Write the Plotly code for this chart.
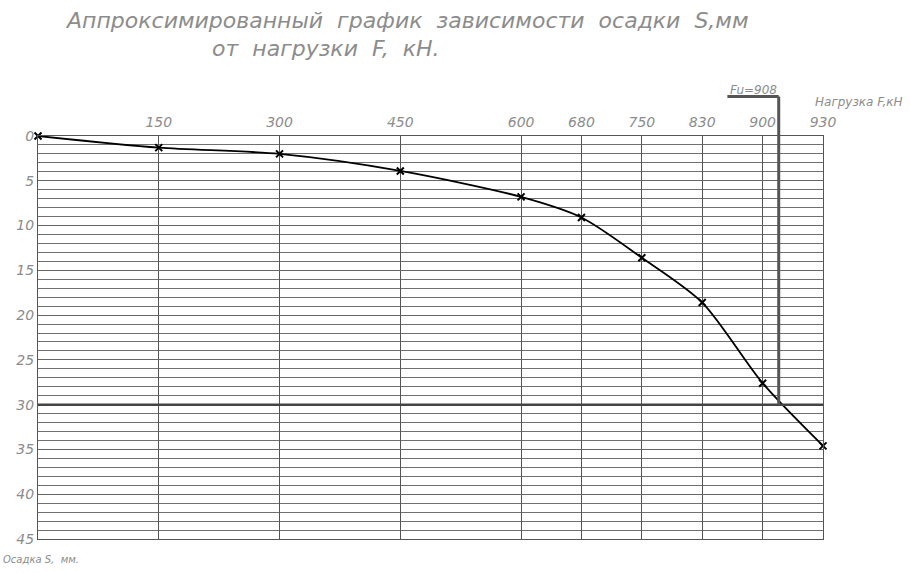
import numpy as np
import plotly.graph_objects as go

# Load stages F, kN and measured settlement S, mm
loads = [0, 150, 300, 450, 600, 680, 750, 830, 900, 930]
settlement = [0, 1.3, 2.0, 3.9, 6.8, 9.1, 13.6, 18.6, 27.6, 34.6]

# Ultimate load and the settlement criterion
fu_load = 908
s_limit = 30
s_max = 45

y_ticks = list(range(0, 50, 5))


def grid_pos(f):
    """Drawing scale: 150 kN steps take two grid columns up to 600 kN,
    every later stage takes one column."""
    cols = [0.0]
    for i in range(1, len(loads)):
        cols.append(cols[-1] + (2 if loads[i] <= 600 else 1))
    return float(np.interp(f, loads, cols))


xpos = [grid_pos(f) for f in loads]
fu_pos = grid_pos(fu_load)
x_end = xpos[-1]

grey = "#8c8c8c"
label_font = dict(family="DejaVu Sans", size=14, color=grey, style="italic")

fig = go.Figure()
fig.add_trace(go.Scatter(
    x=xpos, y=settlement, mode="lines+markers", cliponaxis=False,
    line=dict(color="black", width=1.8, shape="spline", smoothing=0.8),
    marker=dict(symbol="x-thin", size=7, line=dict(color="black", width=2)),
    hoverinfo="skip", showlegend=False,
))

# Heavy line at the settlement limit
fig.add_shape(type="line", xref="x", yref="y", x0=0, x1=x_end, y0=s_limit, y1=s_limit,
              line=dict(color="#444", width=2.5), layer="above")
# Ultimate-load marker line rising above the grid
top_paper = 1.098
fig.add_shape(type="line", xref="x", yref="paper",
              x0=fu_pos, x1=fu_pos, y0=(s_max - s_limit) / s_max, y1=top_paper,
              line=dict(color="#555", width=3), layer="above")
fig.add_shape(type="line", xref="x", yref="paper",
              x0=fu_pos - 0.85, x1=fu_pos, y0=top_paper, y1=top_paper,
              line=dict(color="#555", width=3), layer="above")

fig.add_annotation(x=fu_pos, y=top_paper, xref="x", yref="paper", text="Fu=908",
                   showarrow=False, xanchor="right", yanchor="bottom", yshift=-2,
                   font=dict(family="DejaVu Sans", size=12, color=grey, style="italic"))
fig.add_annotation(x=1.104, y=1.085, xref="paper", yref="paper", text="Нагрузка F,кН",
                   showarrow=False, xanchor="right", yanchor="middle",
                   font=dict(family="DejaVu Sans", size=12, color=grey, style="italic"))
fig.add_annotation(x=-0.047, y=-0.052, xref="paper", yref="paper", text="Осадка S,  мм.",
                   showarrow=False, xanchor="left", yanchor="middle",
                   font=dict(family="DejaVu Sans", size=10, color=grey, style="italic"))

title_font = dict(family="DejaVu Sans", size=22, color=grey, style="italic")
fig.add_annotation(x=0.032, y=1.286, xref="paper", yref="paper",
                   text="Аппроксимированный  график  зависимости  осадки  S,мм",
                   showarrow=False, xanchor="left", yanchor="middle", font=title_font)
fig.add_annotation(x=0.219, y=1.217, xref="paper", yref="paper",
                   text="от  нагрузки  F,  кН.",
                   showarrow=False, xanchor="left", yanchor="middle", font=title_font)

fig.update_layout(
    width=910, height=573,
    margin=dict(l=38, r=87, t=136, b=34),
    plot_bgcolor="white", paper_bgcolor="white",
    xaxis=dict(
        range=[0, x_end], side="top",
        tickvals=xpos[1:], ticktext=[str(f) for f in loads[1:]],
        tickfont=label_font, ticks="", ticklabelstandoff=2,
        showgrid=True, gridcolor="#555", gridwidth=1,
        zeroline=False, showline=True, linecolor="#555", linewidth=1, mirror=True,
        fixedrange=True,
    ),
    yaxis=dict(
        range=[s_max, 0], tickvals=y_ticks, ticktext=[str(v) for v in y_ticks],
        tickfont=label_font, ticks="", showgrid=True, gridcolor="#666", gridwidth=1,
        minor=dict(dtick=1, showgrid=True, gridcolor="#707070", gridwidth=1),
        zeroline=False, showline=True, linecolor="#555", linewidth=1, mirror=True,
        fixedrange=True,
    ),
)

fig.write_html("out.html")
